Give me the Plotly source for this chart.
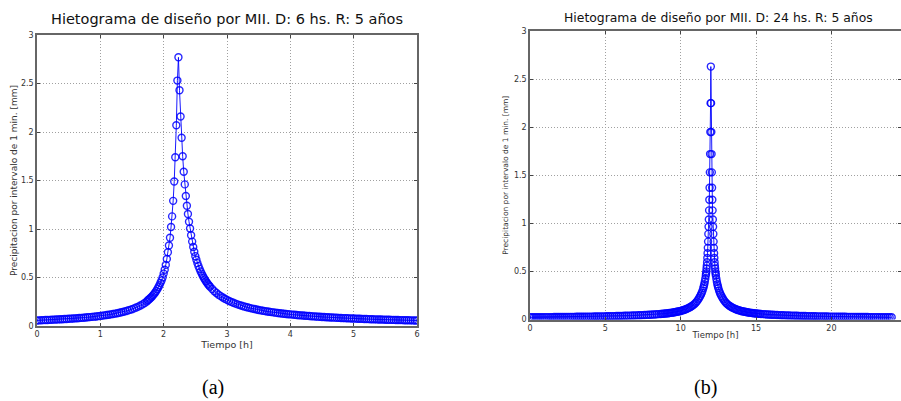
import plotly.graph_objects as go

# ---------------- Panel (a): D = 6 h, time in minutes ----------------
a_minutes = [0, 2, 4, 6, 8, 10, 12, 14, 16, 18,
             20, 22, 24, 26, 28, 30, 32, 34, 36, 38,
             40, 42, 44, 46, 48, 50, 52, 54, 56, 58,
             60, 62, 64, 66, 68, 70, 72, 74, 76, 78,
             80, 82, 84, 86, 88, 90, 92, 94, 96, 98,
             100, 102, 104,
             105, 106, 107, 108, 109, 110, 111, 112, 113, 114,
             115, 116, 117, 118, 119, 120, 121, 122, 123, 124,
             125, 126, 127, 128, 129, 130, 131, 132, 133, 134,
             135, 136, 137, 138, 139, 140, 141, 142, 143, 144,
             145, 146, 147, 148, 149, 150, 151, 152, 153, 154,
             155, 156, 157, 158, 159, 160, 161, 162, 163, 164,
             166, 168, 170, 172,
             174, 176, 178, 180, 182, 184, 186, 188, 190, 192,
             194, 196, 198, 200, 202, 204, 206, 208, 210, 212,
             214, 216, 218, 220, 222, 224, 226, 228, 230, 232,
             234, 236, 238, 240, 242, 244, 246, 248, 250, 252,
             254, 256, 258, 260, 262, 264, 266, 268, 270, 272,
             274, 276, 278, 280, 282, 284, 286, 288, 290, 292,
             294, 296, 298, 300, 302, 304, 306, 308, 310, 312,
             314, 316, 318, 320, 322, 324, 326, 328, 330, 332,
             334, 336, 338, 340, 342, 344, 346, 348, 350, 352,
             354, 356, 358, 360]
a_values = [0.057, 0.058, 0.0595, 0.0605, 0.0614, 0.0624, 0.0634, 0.0645, 0.0655, 0.0667,
            0.0678, 0.0690, 0.0703, 0.0716, 0.0729, 0.0743, 0.0757, 0.0772, 0.0788, 0.0804,
            0.0821, 0.0839, 0.0857, 0.0876, 0.0897, 0.0918, 0.0940, 0.0963, 0.0987, 0.1013,
            0.1040, 0.1068, 0.1099, 0.1130, 0.1164, 0.1200, 0.1238, 0.1279, 0.1322, 0.1368,
            0.1418, 0.1472, 0.1529, 0.1592, 0.1660, 0.1733, 0.1814, 0.1902, 0.2000, 0.2108,
            0.2229, 0.2364, 0.2516,
            0.265, 0.274, 0.284, 0.294, 0.305, 0.318, 0.331, 0.345, 0.362, 0.38,
            0.40, 0.42, 0.445, 0.47, 0.50, 0.54, 0.58, 0.63, 0.69, 0.76,
            0.83, 0.91, 1.02, 1.13, 1.29, 1.49, 1.74, 2.07, 2.53, 2.77,
            2.43, 2.16, 1.94, 1.75, 1.59, 1.46, 1.34, 1.24, 1.155, 1.075,
            1.005, 0.935, 0.87, 0.815, 0.765, 0.72, 0.683, 0.648, 0.617, 0.589,
            0.563, 0.540, 0.518, 0.498, 0.480, 0.462, 0.446, 0.431, 0.417, 0.404,
            0.381, 0.359, 0.340, 0.323,
            0.3079, 0.2938, 0.2810, 0.2693, 0.2585, 0.2486, 0.2393, 0.2308, 0.2228, 0.2154,
            0.2084, 0.2019, 0.1958, 0.1900, 0.1845, 0.1794, 0.1746, 0.1700, 0.1656, 0.1615,
            0.1575, 0.1538, 0.1502, 0.1468, 0.1435, 0.1404, 0.1374, 0.1345, 0.1318, 0.1291,
            0.1266, 0.1242, 0.1218, 0.1196, 0.1174, 0.1153, 0.1133, 0.1113, 0.1094, 0.1076,
            0.1058, 0.1041, 0.1025, 0.1009, 0.0993, 0.0978, 0.0963, 0.0949, 0.0935, 0.0922,
            0.0909, 0.0896, 0.0884, 0.0872, 0.0861, 0.0849, 0.0838, 0.0827, 0.0817, 0.0807,
            0.0797, 0.0787, 0.0778, 0.0768, 0.0759, 0.0750, 0.0742, 0.0733, 0.0725, 0.0717,
            0.0709, 0.0701, 0.0694, 0.0687, 0.0679, 0.0672, 0.0665, 0.0659, 0.0652, 0.0645,
            0.0639, 0.0633, 0.0627, 0.0621, 0.0615, 0.0609, 0.0603, 0.0598, 0.0592, 0.0587,
            0.0581, 0.0576, 0.0571, 0.0566]

# ---------------- Panel (b): D = 24 h, symmetric around the peak ----------------
b_peak_minute = 720
b_offsets = [0, 1, 2, 3, 4, 5, 6, 7, 8, 9, 10, 11, 12, 13, 14, 15, 16, 17, 18, 19,
             20, 22, 24, 26, 28, 30, 33, 36, 39, 42, 46, 50, 55,
             60, 65, 70, 75, 80, 85, 90, 95, 100, 105,
             110, 115, 120, 125, 130, 135, 140, 145, 150, 155,
             160, 165, 170, 175, 180, 185, 190, 195,
             200, 208, 216, 224, 232, 240, 248, 256, 264, 272,
             280, 288, 296, 304, 312, 320, 328, 336, 344, 352,
             360, 368, 376, 384, 392, 400, 408, 416, 424, 432,
             440, 448, 456, 464, 472, 480, 488, 496, 504, 512,
             520, 528, 536, 544, 552, 560, 568, 576, 584, 592,
             600, 608, 616, 624, 632, 640, 648, 656, 664, 672,
             680, 688, 696, 704, 712, 720]
b_values = [2.63, 2.25, 1.95, 1.72, 1.53, 1.37, 1.245, 1.135, 1.04, 0.965, 0.89, 0.81, 0.745, 0.69, 0.64, 0.595, 0.56, 0.53, 0.50, 0.478,
            0.458, 0.423, 0.393, 0.367, 0.345, 0.325, 0.300, 0.279, 0.261, 0.245, 0.226, 0.208, 0.190,
            0.174, 0.161, 0.150, 0.140, 0.132, 0.125, 0.118, 0.112, 0.107, 0.102,
            0.097, 0.093, 0.089, 0.086, 0.083, 0.080, 0.078, 0.075, 0.073, 0.071,
            0.069, 0.067, 0.065, 0.0635, 0.062, 0.061, 0.060, 0.0585,
            0.0574, 0.0557, 0.0542, 0.0527, 0.0514, 0.0501, 0.0489, 0.0478, 0.0467, 0.0457,
            0.0447, 0.0438, 0.0429, 0.0421, 0.0413, 0.0405, 0.0398, 0.0391, 0.0384, 0.0378,
            0.0371, 0.0365, 0.0360, 0.0354, 0.0349, 0.0343, 0.0338, 0.0334, 0.0329, 0.0324,
            0.0320, 0.0316, 0.0312, 0.0308, 0.0304, 0.0300, 0.0297, 0.0294, 0.0291, 0.0288,
            0.0285, 0.0282, 0.0279, 0.0276, 0.0274, 0.0271, 0.0269, 0.0266, 0.0264, 0.0262,
            0.0259, 0.0257, 0.0255, 0.0253, 0.0251, 0.0249, 0.0247, 0.0245, 0.0243, 0.0241,
            0.0239, 0.0237, 0.0235, 0.0233, 0.0232, 0.0230]

assert len(a_minutes) == len(a_values), (len(a_minutes), len(a_values))
assert len(b_offsets) == len(b_values), (len(b_offsets), len(b_values))

title_a = "Hietograma de diseño por MII. D: 6 hs. R: 5 años"
title_b = "Hietograma de diseño por MII. D: 24 hs. R: 5 años"
ylabel = "Precipitacion por intervalo de 1 min. [mm]"
xlabel = "Tiempo [h]"

a_x = [m / 60 for m in a_minutes]
b_left = [(b_peak_minute - k) / 60 for k in reversed(b_offsets[1:])]
b_right = [(b_peak_minute + k) / 60 for k in b_offsets]
b_x = b_left + b_right
b_y = list(reversed(b_values[1:])) + b_values

W, H = 901, 401
BLUE = "rgba(0,0,255,0.85)"
LINE_BLUE = "rgba(0,0,255,0.9)"

fig = go.Figure()
fig.add_trace(go.Scatter(x=a_x, y=a_values, mode="lines+markers",
                         line=dict(color=LINE_BLUE, width=1),
                         marker=dict(symbol="circle-open", size=7, color=BLUE, line=dict(width=1.4)),
                         xaxis="x", yaxis="y", showlegend=False))
fig.add_trace(go.Scatter(x=b_x, y=b_y, mode="lines+markers",
                         line=dict(color=LINE_BLUE, width=1),
                         marker=dict(symbol="circle-open", size=7, color=BLUE, line=dict(width=1.4)),
                         xaxis="x2", yaxis="y2", showlegend=False))

def px(xp):
    return xp / W

def py(yp):
    return 1 - yp / H

axis_common = dict(showline=True, mirror="ticks", linecolor="#666", linewidth=1.5,
                   ticks="inside", ticklen=3, tickcolor="#444", automargin=False,
                   showgrid=True, gridcolor="#a0a0a0", griddash="1px,2px", gridwidth=1,
                   zeroline=False, tickfont=dict(family="DejaVu Sans", size=8, color="#333"))

fig.update_layout(
    width=W, height=H, margin=dict(l=0, r=0, t=0, b=0, autoexpand=False),
    paper_bgcolor="white", plot_bgcolor="white",
    xaxis=dict(domain=[px(37), px(417)], range=[0, 6], dtick=1, anchor="y",
               title=dict(text=xlabel, font=dict(family="DejaVu Sans", size=9.5, color="#333"), standoff=0),
               **axis_common),
    yaxis=dict(domain=[py(326), py(35)], range=[0, 3], dtick=0.5, anchor="x",
               title=dict(text=ylabel, font=dict(family="DejaVu Sans", size=9, color="#333"), standoff=2),
               **axis_common),
    xaxis2=dict(domain=[px(530), px(901)], range=[0, 24.62], tickvals=[0, 5, 10, 15, 20], anchor="y2",
                title=dict(text=xlabel, font=dict(family="DejaVu Sans", size=8.5, color="#333"), standoff=0),
                **axis_common),
    yaxis2=dict(domain=[py(319.5), py(31)], range=[0, 3], dtick=0.5, anchor="x2",
                title=dict(text=ylabel, font=dict(family="DejaVu Sans", size=7.5, color="#333"), standoff=4),
                **axis_common),
    annotations=[
        dict(text=title_a, x=px(227), y=py(19), xref="paper", yref="paper", showarrow=False,
             xanchor="center", yanchor="middle", font=dict(family="DejaVu Sans", size=14.5, color="#111")),
        dict(text=title_b, x=px(718), y=py(17), xref="paper", yref="paper", showarrow=False,
             xanchor="center", yanchor="middle", font=dict(family="DejaVu Sans", size=12.4, color="#111")),
        dict(text="(a)", x=px(213), y=py(387), xref="paper", yref="paper", showarrow=False,
             xanchor="center", yanchor="middle", font=dict(family="Liberation Serif", size=20, color="#000")),
        dict(text="(b)", x=px(705), y=py(387), xref="paper", yref="paper", showarrow=False,
             xanchor="center", yanchor="middle", font=dict(family="Liberation Serif", size=20, color="#000")),
    ],
)

fig.write_html("out.html", config={"displayModeBar": False},
               post_script="document.body.style.margin='0';document.body.style.overflow='hidden';")
